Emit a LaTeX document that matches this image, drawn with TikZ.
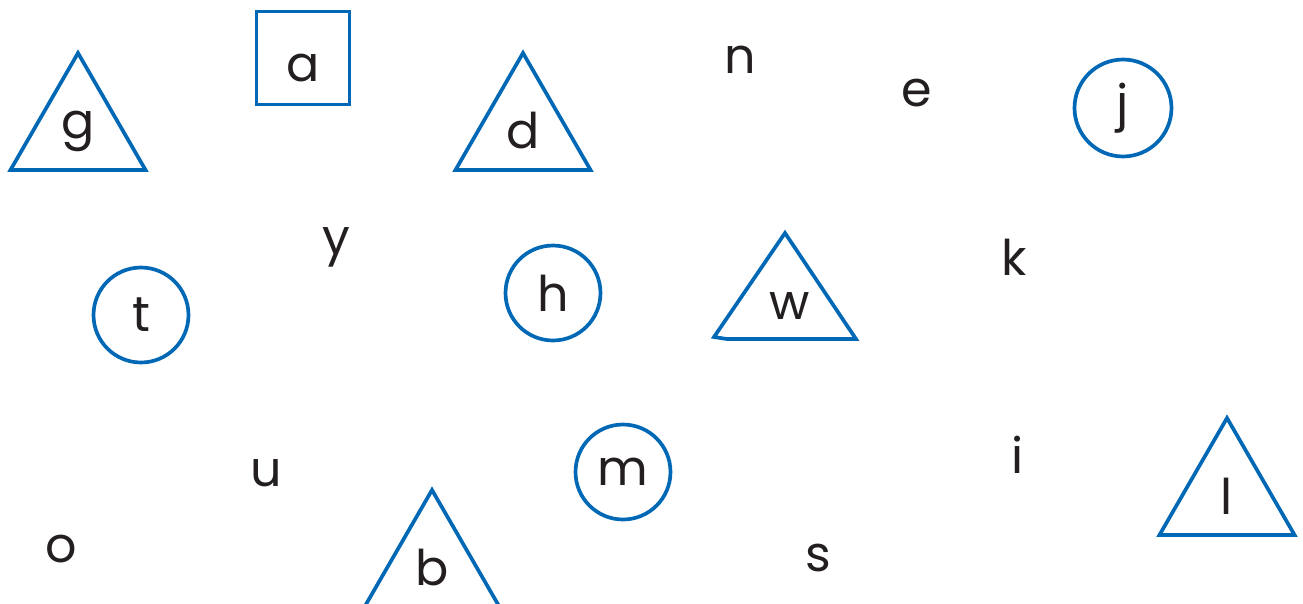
\documentclass[tikz,border=0pt]{standalone}
\usepackage{fontspec}
\setmainfont{Poppins}
\usetikzlibrary{shapes.geometric}
\definecolor{shapeblue}{HTML}{0068B4}
\definecolor{inkblack}{HTML}{231F20}

\begin{document}
\begin{tikzpicture}[x=0.02cm, y=-0.02cm,
    letter/.style={text=inkblack, font=\fontsize{28}{30}\selectfont, inner sep=0pt},
    ringbox/.style={letter, draw=shapeblue, line width=2.1pt, circle, minimum size=1.9cm},
    squarebox/.style={letter, draw=shapeblue, line width=2.1pt, rectangle, minimum size=1.86cm},
    tribox/.style={letter, draw=shapeblue, line width=2.1pt, regular polygon, regular polygon sides=3, minimum size=3.12cm}]
  % Page is the reference frame, 1303 x 603 units
  \useasboundingbox (0,0) rectangle (1303,603);
  % Triangles (b runs off the bottom edge)
  \node[tribox] (g) at (78,131) {g};
  \node[tribox] (d) at (523,131) {d};
  \node[tribox] (l) at (1227,496) {l};
  \node[tribox] (b) at (432,568) {b};
  % The w triangle is squashed, with a small kink at its lower left corner
  \node[letter] (w) at (790,306) {w};
  \draw[shapeblue, line width=2.1pt, line join=miter]
    (785,233) -- (714,337) -- (727,339) -- (856,339) -- cycle;
  % Square and circles
  \node[squarebox, text height=0.95cm] (a) at (303,58) {a};
  \node[ringbox, minimum size=1.94cm] (j) at (1123,108) {j};
  \node[ringbox] (t) at (141,315) {t};
  \node[ringbox] (h) at (553,293) {h};
  \node[ringbox] (m) at (623,472) {m};
  % Letters with no shape round them
  \foreach \t/\x/\y in {n/740/60, e/917/93, y/336/247, k/1014/257,
                        u/266/473, i/1018/455, o/61/549, s/818/558} {
    \node[letter] (\t) at (\x,\y) {\t};
  }
\end{tikzpicture}
\end{document}
